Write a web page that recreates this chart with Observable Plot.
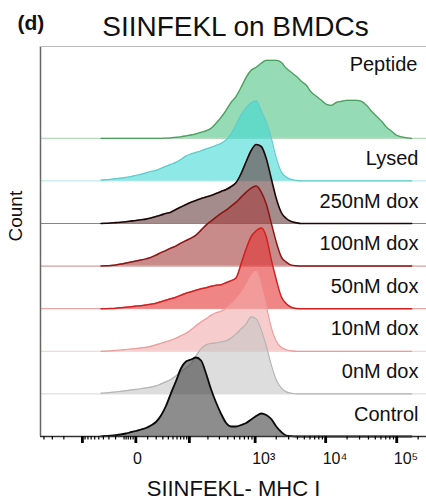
<!DOCTYPE html>
<html><head><meta charset="utf-8">
<script src="https://cdn.jsdelivr.net/npm/d3@7"></script>
<script src="https://cdn.jsdelivr.net/npm/@observablehq/plot@0.6"></script>
<style>body{margin:0;background:#fff} #chart svg{display:block}</style>
</head><body><div id="chart"></div>
<script>
// Sample rows, top to bottom
const samples = ["Peptide", "Lysed", "250nM dox", "100nM dox", "50nM dox", "10nM dox", "0nM dox", "Control"];

// Histogram bin centres (SIINFEKL-MHC I fluorescence)
const intensity = [-45,-35,-27,-19.7,-13.5,-8.3,-3.8,0,3.8,8.3,
  13.5,19.7,27,35,45,57,71,87.5,107,129,
  156,187,224,267,318,378,449,531,628,744,
  877,1036,1223,1443,1700,2004,2360,2780,3270,3855,
  4540,5340,6290,7400,8700,10250,12060,14190,16700,19640,
  23100,27180,32000,37620,44300,52070,61300,72050,84800,99720,
  117000,138000,162000];

// Counts (normalised, a.u.) per bin
const peptide = [0,0,0,0,0,0,0,0,0,0,
  0,0,0,0.2,0.5,1,1.5,2.5,3.3,4.5,
  6,7.5,10,15,21,28,36,42,51,61,
  68,71,75,78,78,78,76,70,66,62,
  57,53,46,42,38,34,33,36,37,38,
  38,38,37,33,27,22,17,11,7,3,
  1.5,0.5,0];
const lysed = [0.7,1.2,1.6,2.2,2.8,3.5,4.3,5.5,6.5,8,
  9.5,10.5,12.5,14.5,16.5,18.5,21.5,25,27,28.5,
  30,32,33.5,35.5,37.5,41,47,56,66,73,
  78,80,70,59,43,23,9,4,1.5,0.5,
  0,0,0,0,0,0,0,0,0,0,
  0,0,0,0,0,0,0,0,0,0,
  0,0,0];
const dox250 = [0,0.2,0.5,0.9,1.3,1.8,2.4,3,3.7,4.4,
  5.5,7,8.5,10,11.3,14,16.5,19,21.3,23,
  25,26.5,28,30,32,34,37,41,50,62,
  73,79,77,65,45,25,11,5,2,0.7,
  0,0,0,0,0,0,0,0,0,0,
  0,0,0,0,0,0,0,0,0,0,
  0,0,0];
const dox100 = [0.2,0.4,0.7,1.2,2,3,4,5,6,7.2,
  8.7,11,13.5,15.5,18,20,23,25.5,28,31,
  36,41,45,49,52.7,56,60,64,69,74,
  78,80,74,62,43,24,9.3,4,1,0.3,
  0,0,0,0,0,0,0,0,0,0,
  0,0,0,0,0,0,0,0,0,0,
  0,0,0];
const dox50 = [0,0,0.2,0.5,1,1.5,2,2.6,3,3.7,
  4.5,5.5,7,8.5,10,11.5,13.5,15.5,17,18.5,
  20,21,22.5,23.5,24,26,28,31,45,60,
  72,78,80.7,72,49,29,12,5,1.5,0.3,
  0,0,0,0,0,0,0,0,0,0,
  0,0,0,0,0,0,0,0,0,0,
  0,0,0];
const dox10 = [0,0.2,0.5,0.9,1.3,1.8,2.3,2.8,3.4,4,
  5,6.5,8,9.5,11,13,15.5,18,21.5,25.5,
  29.3,32.5,36,38.5,40,43,47,52,58,66,
  75,80,66,45,24,10,4,1.5,0.5,0,
  0,0,0,0,0,0,0,0,0,0,
  0,0,0,0,0,0,0,0,0,0,
  0,0,0];
const dox0 = [0.7,1,1.5,2,2.6,3.2,4,4.5,5.2,6,
  6.8,8,10,12,14.5,18,22,26,30,38,
  45,49,50.5,51,52,53,56,60,65,70,
  77,75,64,48,29,14,6,2,0.7,0,
  0,0,0,0,0,0,0,0,0,0,
  0,0,0,0,0,0,0,0,0,0,
  0,0,0];
const control = [0.2,0.5,0.8,1.3,2,3,4.3,5.5,7,8.5,
  11,14.5,21,30,42.7,55,68,75,77,79,
  76,63,47,34,22.7,13.5,10,10,11.5,13.5,
  17,20.5,23,21.5,17.5,10,4.5,1,0.3,0,
  0,0,0,0,0,0,0,0,0,0,
  0,0,0,0,0,0,0,0,0,0,
  0,0,0];
const countsBySample = [peptide, lysed, dox250, dox100, dox50, dox10, dox0, control];

// Axis ticks and tick labels
const xTicksMajor = [-100, 0, 100, 1000, 10000, 100000];
const xLabelValues = [0, 1000, 10000, 100000];
const xLabelText = ["0", "10³", "10⁴", "10⁵"];
const xTicksMinor = [-400,-300,-200,-90,-80,-70,-60,-50,-40,-30,-20,-10,-8,-6,-4,-2,
  10,20,30,40,50,60,70,80,90,200,300,400,500,600,700,800,900,
  2000,3000,4000,5000,6000,7000,8000,9000,20000,30000,40000,50000,60000,70000,80000,90000,200000];

// Styles (kept separate from the data)
const styles = {
  "Peptide":   {fill: "#4ec384", stroke: "#4e9e5e", sw: 1.3},
  "Lysed":     {fill: "#43d9d5", stroke: "#62cccc", sw: 1.2},
  "250nM dox": {fill: "#673f3f", stroke: "#1e0606", sw: 1.6},
  "100nM dox": {fill: "#a53c3c", stroke: "#8a1515", sw: 1.5},
  "50nM dox":  {fill: "#e43434", stroke: "#d21f1f", sw: 1.5},
  "10nM dox":  {fill: "#f2aaaa", stroke: "#f09a9a", sw: 1.2},
  "0nM dox":   {fill: "#c6c6c6", stroke: "#b4b4b4", sw: 1.2},
  "Control":   {fill: "#414141", stroke: "#0a0a0a", sw: 1.8}
};

const rowStep = 42.6, yTop = 390;
const xDomain = [-450, 262144];
const n = samples.length;
const font = "Liberation Sans, Arial, Helvetica, sans-serif";
const marks = [];

samples.forEach((s, k) => {
  const off = (n - 1 - k) * rowStep;
  const data = intensity.map((x, i) => ({x, c: countsBySample[k][i]}));
  const st = styles[s];
  marks.push(Plot.ruleY([off], {stroke: st.stroke, strokeOpacity: 0.5, strokeWidth: 1}));
  marks.push(Plot.areaY(data, {x: "x", y1: () => off, y2: d => off + d.c, fill: st.fill, fillOpacity: 0.6, curve: "monotone-x"}));
  marks.push(Plot.lineY(data, {x: "x", y: d => off + d.c, stroke: st.stroke, strokeWidth: st.sw, curve: "monotone-x"}));
});

// frame lines
marks.push(Plot.ruleX([xDomain[0]], {stroke: "#666", strokeWidth: 1.5}));
marks.push(Plot.ruleY([yTop], {stroke: "#bbb", strokeWidth: 1.2}));
marks.push(Plot.ruleY([0], {stroke: "#333", strokeWidth: 1.5}));

// axis ticks
marks.push(Plot.axisX({ticks: xTicksMinor, tickSize: 3.5, strokeWidth: 1.2, tickFormat: () => "", label: null}));
marks.push(Plot.axisX({ticks: xTicksMajor, tickSize: 7, strokeWidth: 2.8, tickFormat: () => "", label: null}));
// tick labels
marks.push(Plot.text(xLabelValues, {x: d => d, text: (d, i) => xLabelText[i], frameAnchor: "bottom",
  dy: 16, dx: -3, lineAnchor: "top", textAnchor: "start", fontSize: 16,
  fontFamily: font, fill: "#111"}));

// row labels
marks.push(Plot.text([samples[0]], {frameAnchor: "top-right", dx: -9, dy: 24, lineAnchor: "bottom",
  textAnchor: "end", fontSize: 20, fontFamily: font, fill: "#111"}));
marks.push(Plot.text(samples.slice(1), {frameAnchor: "right", y: (d, i) => (n - 2 - i) * rowStep + 16,
  text: d => d, dx: -8, lineAnchor: "bottom", textAnchor: "end", fontSize: 20, fontFamily: font, fill: "#111"}));

// titles
marks.push(Plot.text(["SIINFEKL on BMDCs"], {frameAnchor: "top", dx: 2, dy: -11, lineAnchor: "bottom",
  fontSize: 28, fontFamily: font, fill: "#111"}));
marks.push(Plot.text(["(d)"], {frameAnchor: "top-left", dx: -23, dy: -17, lineAnchor: "bottom",
  textAnchor: "start", fontSize: 21, fontWeight: "bold", fontFamily: font, fill: "#111"}));
marks.push(Plot.text(["Count"], {frameAnchor: "left", dx: -25, dy: 0, rotate: -90,
  fontSize: 19, fontFamily: font, fill: "#111"}));
marks.push(Plot.text(["SIINFEKL- MHC I"], {frameAnchor: "bottom", dy: 59, lineAnchor: "bottom",
  fontSize: 22, fontFamily: font, fill: "#111"}));

const chart = Plot.plot({
  width: 426, height: 502,
  marginTop: 46, marginRight: 0, marginBottom: 66, marginLeft: 40,
  style: {background: "#fff", fontFamily: font, overflow: "visible"},
  x: {type: "symlog", constant: 21.5, domain: xDomain},
  y: {domain: [0, yTop], axis: null},
  marks
});
document.getElementById("chart").appendChild(chart);
</script>
</body></html>
